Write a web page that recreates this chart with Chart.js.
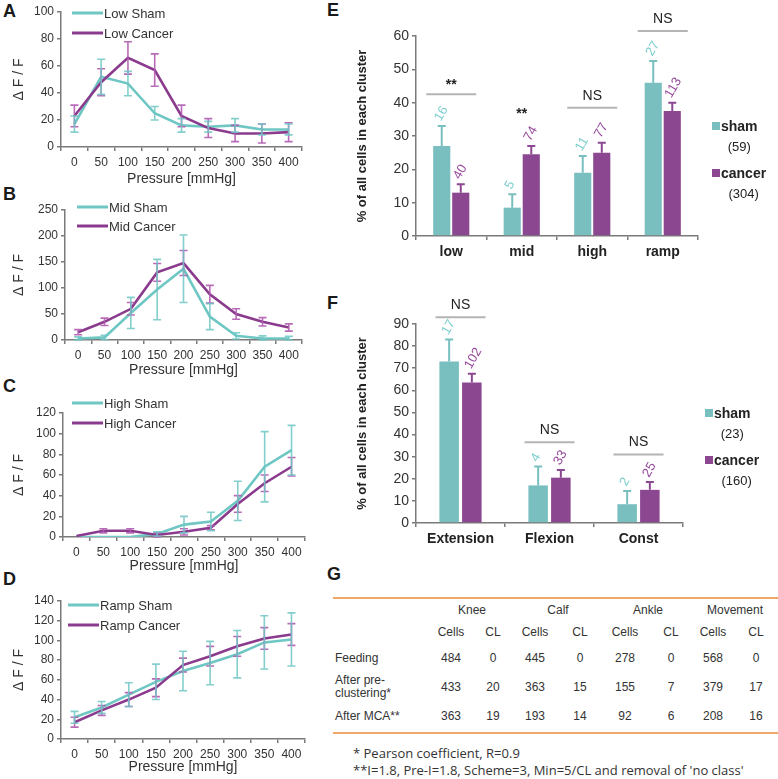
<!DOCTYPE html>
<html>
<head>
<meta charset="utf-8">
<script src="https://cdn.jsdelivr.net/npm/chart.js@4.4.0/dist/chart.umd.min.js"></script>
<style>
body{margin:0;background:#fff;width:778px;height:779px;position:relative;overflow:hidden;font-family:"Liberation Sans",Arial,sans-serif;color:#333}
canvas{position:absolute}
.plab{position:absolute;font-weight:bold;font-size:18px;line-height:1;color:#1a1a1a}
.t{position:absolute;font-size:12px;line-height:1;white-space:nowrap;color:#333;transform:translate(-50%,-50%)}
.tl{position:absolute;font-size:12px;line-height:1.05;white-space:nowrap;color:#333;transform:translateY(-50%)}
.hr{position:absolute;left:333px;width:445px;height:2px;background:#f0a868}
.fn{position:absolute;left:353px;font-family:"Open Sans",sans-serif;font-size:13px;line-height:1;white-space:nowrap;color:#333;transform:translateY(-50%)}
</style>
</head>
<body>
<div class="plab" style="left:3px;top:2px">A</div>
<div class="plab" style="left:3px;top:185px">B</div>
<div class="plab" style="left:3px;top:377px">C</div>
<div class="plab" style="left:3px;top:570px">D</div>
<div class="plab" style="left:327px;top:1px">E</div>
<div class="plab" style="left:327px;top:294px">F</div>
<div class="plab" style="left:327px;top:565px">G</div>

<canvas id="cA" width="320" height="190" style="left:0;top:0"></canvas>
<canvas id="cB" width="320" height="190" style="left:0;top:190px"></canvas>
<canvas id="cC" width="320" height="195" style="left:0;top:380px"></canvas>
<canvas id="cD" width="320" height="209" style="left:0;top:570px"></canvas>
<canvas id="cE" width="458" height="270" style="left:320px;top:0"></canvas>
<canvas id="cF" width="458" height="262" style="left:320px;top:290px"></canvas>
<div id="tbl"></div>

<script>
// line panels A-D
var pressure = ['0','50','100','150','200','250','300','350','400'];

var lowSham = [17,52,47,25,16,15,16,13,13];
var lowShamErr = [6,13,9,5,5,4,5,4,4];
var lowCancer = [23,48,66,57,23,14,10,10,11];
var lowCancerErr = [8,10,12,12,8,7,6,7,7];

var midSham = [3,5,52,97,137,45,8,3,3];
var midShamErr = [3,4,30,58,65,25,6,5,4];
var midCancer = [15,35,60,130,148,88,50,35,24];
var midCancerErr = [5,7,12,17,24,17,10,8,7];

var highSham = [0,0,0,3,12,15,35,68,84];
var highShamErr = [0,0,0,2,8,9,19,34,24];
var highCancer = [1,6,6,2,5,9,32,52,68];
var highCancerErr = [0,2,2,2,3,2,8,8,9];

var rampSham = [22,32,45,58,69,77,86,98,101];
var rampShamErr = [6,6,12,18,20,22,24,27,27];
var rampCancer = [17,29,40,52,75,84,94,102,106];
var rampCancerErr = [5,5,7,9,7,10,10,11,11];

// bar panel E
var clusters = ['low','mid','high','ramp'];
var eSham = [27,8.5,19,46];
var eShamErr = [6,4,5,6.5];
var eShamN = [16,5,11,27];
var eCancer = [13,24.5,25,37.5];
var eCancerErr = [2.5,2.5,3,2.5];
var eCancerN = [40,74,77,113];
var eSig = ['**','**','NS','NS'];
var eSigY = [42.5,34,38.5,61.5];
var eSigLine = [1,0,1,1];
var eTotals = [59,304];

// bar panel F
var moves = ['Extension','Flexion','Const'];
var fSham = [73,17,8.5];
var fShamErr = [10,8.5,6];
var fShamN = [17,4,2];
var fCancer = [63.5,20.5,15];
var fCancerErr = [4,3.5,3.5];
var fCancerN = [102,33,25];
var fSig = ['NS','NS','NS'];
var fSigY = [93,36.5,31];
var fSigLine = [1,1,1];
var fTotals = [23,160];

// table G
var tblGroups = ['Knee','Calf','Ankle','Movement'];
var tblRows = [['Feeding'],['After pre-','clustering*'],['After MCA**']];
var tblCells = [[484,445,278,568],[433,363,155,379],[363,193,92,208]];
var tblCL = [[0,0,0,0],[20,15,7,17],[19,14,6,16]];
var notes = ['* Pearson coefficient, R=0.9', "**I=1.8, Pre-I=1.8, Scheme=3, Min=5/CL and removal of 'no class'"];

Chart.defaults.font.family = '"Liberation Sans", Arial, sans-serif';
Chart.defaults.color = '#333';
Chart.defaults.animation = false;

var SHAM = '#6fc7c4', CANCER = '#8b3b8d';
var SHAM_ERR = 'rgba(111,199,196,0.85)', CANCER_ERR = 'rgba(176,92,176,0.9)';
var SHAM_BAR = '#7abfc0', CANCER_BAR = '#8b4891';
var AXIS = '#7a7a7a';

var errPlugin = {
  id: 'errbars',
  afterDatasetsDraw: function(chart) {
    var ctx = chart.ctx, ys = chart.scales.y;
    chart.data.datasets.forEach(function(ds, di) {
      if (!ds.err) return;
      var meta = chart.getDatasetMeta(di);
      meta.data.forEach(function(el, i) {
        var v = ds.data[i], e = ds.err[i];
        if (!e) return;
        var x = el.x, cap = ds.cap || 4;
        var yt = ys.getPixelForValue(v + e);
        var yb = ds.oneSided ? ys.getPixelForValue(v) : ys.getPixelForValue(Math.max(v - e, 0));
        ctx.save();
        ctx.strokeStyle = ds.errColor;
        ctx.lineWidth = ds.errWidth || 1.6;
        ctx.beginPath();
        ctx.moveTo(x, yt); ctx.lineTo(x, yb);
        ctx.moveTo(x - cap, yt); ctx.lineTo(x + cap, yt);
        if (!ds.oneSided) { ctx.moveTo(x - cap, yb); ctx.lineTo(x + cap, yb); }
        ctx.stroke();
        ctx.restore();
        if (ds.counts) {
          ctx.save();
          ctx.translate(x - 4, yt - 6);
          ctx.rotate(-Math.PI / 3);
          ctx.fillStyle = ds.countColor;
          ctx.font = '13px "Liberation Sans", Arial, sans-serif';
          ctx.textAlign = 'left';
          ctx.textBaseline = 'middle';
          ctx.fillText(String(ds.counts[i]), 0, 0);
          ctx.restore();
        }
      });
    });
  }
};

var lineLegend = {
  id: 'lineLegend',
  afterDraw: function(chart, args, o) {
    if (!o.names) return;
    var ctx = chart.ctx;
    ctx.save();
    ctx.font = '13px "Liberation Sans", Arial, sans-serif';
    ctx.textBaseline = 'middle';
    o.names.forEach(function(n, i) {
      ctx.strokeStyle = o.colors[i];
      ctx.lineWidth = 3;
      ctx.beginPath();
      ctx.moveTo(o.x, o.y[i]); ctx.lineTo(o.x + 31, o.y[i]);
      ctx.stroke();
      ctx.fillStyle = '#333';
      ctx.fillText(n, o.x + 32, o.y[i] + 1);
    });
    ctx.restore();
  }
};

var sigPlugin = {
  id: 'sig',
  afterDraw: function(chart, args, o) {
    if (!o.labels) return;
    var ctx = chart.ctx, xs = chart.scales.x, ys = chart.scales.y;
    ctx.save();
    o.labels.forEach(function(t, i) {
      var x = xs.getPixelForValue(i), y = ys.getPixelForValue(o.levels[i]);
      if (o.lines[i]) {
        ctx.strokeStyle = '#b4b4b4';
        ctx.lineWidth = 2;
        ctx.beginPath();
        ctx.moveTo(x - 25, y); ctx.lineTo(x + 25, y);
        ctx.stroke();
      }
      ctx.fillStyle = '#222';
      ctx.font = (t === '**' ? 'bold 14px' : '14px') + ' "Liberation Sans", Arial, sans-serif';
      ctx.textAlign = 'center';
      ctx.textBaseline = 'middle';
      ctx.fillText(t, x, y - (t === '**' ? 9 : 12));
    });
    // legend with totals
    var lg = o.legend;
    ctx.textAlign = 'left';
    ['sham','cancer'].forEach(function(n, i) {
      var y = lg.y + i * 47;
      ctx.fillStyle = i ? CANCER_BAR : SHAM_BAR;
      ctx.fillRect(lg.x, y - 4, 8, 8);
      ctx.fillStyle = '#222';
      ctx.font = 'bold 14px "Liberation Sans", Arial, sans-serif';
      ctx.fillText(n, lg.x + 9, y + 1);
      var w = ctx.measureText(n).width;
      ctx.font = '13px "Liberation Sans", Arial, sans-serif';
      ctx.textAlign = 'center';
      ctx.fillText('(' + lg.totals[i] + ')', lg.x + 9 + w / 2, y + 21);
      ctx.textAlign = 'left';
    });
    ctx.restore();
  }
};

function lineChart(id, o) {
  return new Chart(document.getElementById(id), {
    type: 'line',
    data: {
      labels: pressure,
      datasets: [
        { data: o.cancer, err: o.cancerErr, borderColor: CANCER, errColor: CANCER_ERR, borderWidth: 2.6, pointRadius: 0, tension: 0 },
        { data: o.sham, err: o.shamErr, borderColor: SHAM, errColor: SHAM_ERR, borderWidth: 2.6, pointRadius: 0, tension: 0 }
      ]
    },
    options: {
      responsive: false,
      layout: { padding: { left: 0, top: o.top, right: o.right, bottom: 0 } },
      scales: {
        x: {
          type: 'category', offset: true,
          grid: { offset: true, drawOnChartArea: false, tickLength: 4, color: AXIS, lineWidth: 1.5 },
          border: { color: AXIS, width: 1.5 },
          ticks: { font: { size: 12 }, padding: 4, maxRotation: 0, autoSkip: false, color: '#333' },
          title: { display: true, text: 'Pressure [mmHg]', font: { size: 14 }, color: '#333', padding: { top: 0, bottom: o.tb } },
          afterFit: function(s) { s.height = o.xh; }
        },
        y: {
          min: 0, max: o.max,
          ticks: { stepSize: o.step, font: { size: 12 }, padding: 3, color: '#333' },
          grid: { drawOnChartArea: false, tickLength: 4, color: AXIS, lineWidth: 1.5 },
          border: { color: AXIS, width: 1.5 },
          title: { display: true, text: 'Δ F / F', font: { size: 14 }, color: '#333', padding: { top: 11, bottom: 0 } },
          afterFit: function(s) { s.width = o.yw; }
        }
      },
      plugins: {
        legend: { display: false }, tooltip: { enabled: false },
        lineLegend: { names: o.names, colors: [SHAM, CANCER], x: o.lx, y: o.ly }
      }
    },
    plugins: [errPlugin, lineLegend]
  });
}

lineChart('cA', { sham: lowSham, shamErr: lowShamErr, cancer: lowCancer, cancerErr: lowCancerErr,
  names: ['Low Sham','Low Cancer'], max: 100, step: 20, top: 12, right: 18, xh: 43, tb: 2, yw: 61, lx: 72, ly: [13,33] });
lineChart('cB', { sham: midSham, shamErr: midShamErr, cancer: midCancer, cancerErr: midCancerErr,
  names: ['Mid Sham','Mid Cancer'], max: 250, step: 50, top: 20, right: 18, xh: 40, tb: 1, yw: 65, lx: 77, ly: [17,36] });
lineChart('cC', { sham: highSham, shamErr: highShamErr, cancer: highCancer, cancerErr: highCancerErr,
  names: ['High Sham','High Cancer'], max: 120, step: 20, top: 33, right: 15, xh: 38, tb: 0, yw: 63, lx: 72, ly: [23,43] });
lineChart('cD', { sham: rampSham, shamErr: rampShamErr, cancer: rampCancer, cancerErr: rampCancerErr,
  names: ['Ramp Sham','Ramp Cancer'], max: 140, step: 20, top: 31, right: 15, xh: 40, tb: 3, yw: 61, lx: 68, ly: [35,55] });

function barChart(id, o) {
  return new Chart(document.getElementById(id), {
    type: 'bar',
    data: {
      labels: o.labels,
      datasets: [
        { data: o.sham, err: o.shamErr, counts: o.shamN, backgroundColor: SHAM_BAR, errColor: SHAM_BAR, countColor: '#7ccfcd', oneSided: true, errWidth: 2, cap: 4 },
        { data: o.cancer, err: o.cancerErr, counts: o.cancerN, backgroundColor: CANCER_BAR, errColor: CANCER_BAR, countColor: '#95499b', oneSided: true, errWidth: 2, cap: 4 }
      ]
    },
    options: {
      responsive: false,
      categoryPercentage: o.cp, barPercentage: o.bp,
      layout: { padding: { left: 0, top: o.top, right: o.right, bottom: 0 } },
      scales: {
        x: {
          grid: { offset: true, drawOnChartArea: false, tickLength: 4, color: AXIS, lineWidth: 1.5 },
          border: { color: AXIS, width: 1.5 },
          ticks: { font: { size: 14, weight: 'bold' }, padding: 4, color: '#222' },
          afterFit: function(s) { s.height = o.xh; }
        },
        y: {
          min: 0, max: o.max,
          ticks: { stepSize: 10, font: { size: 14 }, padding: 3, color: '#333' },
          grid: { drawOnChartArea: false, tickLength: 4, color: AXIS, lineWidth: 1.5 },
          border: { color: AXIS, width: 1.5 },
          title: { display: true, text: '% of all cells in each cluster', font: { size: 13, weight: 'bold' }, color: '#222', padding: { top: 35, bottom: 0 } },
          afterFit: function(s) { s.width = 96; }
        }
      },
      plugins: {
        legend: { display: false }, tooltip: { enabled: false },
        sig: { labels: o.sig, levels: o.sigY, lines: o.sigLine, legend: { x: o.lgx, y: o.lgy, totals: o.totals } }
      }
    },
    plugins: [errPlugin, sigPlugin]
  });
}

barChart('cE', { labels: clusters, sham: eSham, shamErr: eShamErr, shamN: eShamN, cancer: eCancer, cancerErr: eCancerErr, cancerN: eCancerN,
  sig: eSig, sigY: eSigY, sigLine: eSigLine, totals: eTotals, max: 60, top: 36, right: 80, xh: 34, cp: 0.54, bp: 0.9, lgx: 392, lgy: 126 });
barChart('cF', { labels: moves, sham: fSham, shamErr: fShamErr, shamN: fShamN, cancer: fCancer, cancerErr: fCancerErr, cancerN: fCancerN,
  sig: fSig, sigY: fSigY, sigLine: fSigLine, totals: fTotals, max: 90, top: 34, right: 95, xh: 29, cp: 0.51, bp: 0.86, lgx: 385, lgy: 123 });

// table G
var tbl = document.getElementById('tbl');
function put(cls, text, x, y) {
  var d = document.createElement('div');
  d.className = cls;
  d.textContent = text;
  d.style.left = x + 'px';
  d.style.top = y + 'px';
  tbl.appendChild(d);
  return d;
}
var colX = [451,493,535,580,625,671,713,756];
var groupX = [472,558,648,735];
var rowY = [658,687,716];
var h1 = document.createElement('div'); h1.className = 'hr'; h1.style.top = '597px'; tbl.appendChild(h1);
var h2 = document.createElement('div'); h2.className = 'hr'; h2.style.top = '732px'; tbl.appendChild(h2);
tblGroups.forEach(function(g, i) {
  put('t', g, groupX[i], 610);
  put('t', 'Cells', colX[2 * i], 632);
  put('t', 'CL', colX[2 * i + 1], 632);
});
tblRows.forEach(function(r, j) {
  var d = put('tl', '', 335, rowY[j]);
  d.innerHTML = r.join('<br>');
  tblCells[j].forEach(function(v, i) {
    put('t', v, colX[2 * i], rowY[j]);
    put('t', tblCL[j][i], colX[2 * i + 1], rowY[j]);
  });
});
put('fn', notes[0], 353, 753);
put('fn', notes[1], 353, 770);
</script>
</body>
</html>
